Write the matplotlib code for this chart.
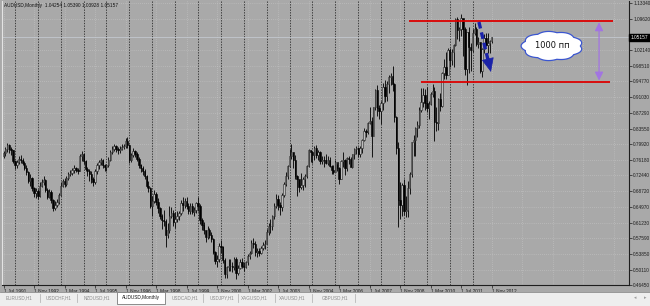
import numpy as np
import matplotlib.pyplot as plt
from matplotlib.path import Path
from matplotlib.patches import Rectangle

plt.rcParams['font.family'] = ['Liberation Sans', 'DejaVu Sans']

# ---- AUDUSD monthly bars, Jul 1991 .. Nov 2012 ----
first_open = 0.7700

closes = [
    0.7770, 0.7880, 0.7960, 0.7880, 0.7840, 0.7590,                                  # 1991 Jul-Dec
    0.7480, 0.7560, 0.7640, 0.7620, 0.7550, 0.7420, 0.7320, 0.7120, 0.7180, 0.6940, 0.6820, 0.6880,  # 1992
    0.6760, 0.7000, 0.7090, 0.7140, 0.6900, 0.6740, 0.6860, 0.6670, 0.6480, 0.6550, 0.6610, 0.6780,  # 1993
    0.7000, 0.7120, 0.7050, 0.7180, 0.7270, 0.7310, 0.7370, 0.7410, 0.7380, 0.7360, 0.7700, 0.7740,  # 1994
    0.7580, 0.7400, 0.7340, 0.7280, 0.7160, 0.7080, 0.7340, 0.7480, 0.7560, 0.7600, 0.7500, 0.7440,  # 1995
    0.7480, 0.7620, 0.7800, 0.7870, 0.7930, 0.7880, 0.7840, 0.7880, 0.7920, 0.7950, 0.8060, 0.7960,  # 1996
    0.7600, 0.7720, 0.7820, 0.7740, 0.7630, 0.7480, 0.7420, 0.7360, 0.7220, 0.7000, 0.6940, 0.6520,  # 1997
    0.6640, 0.6800, 0.6620, 0.6460, 0.6270, 0.6180, 0.6170, 0.5840, 0.5950, 0.6280, 0.6360, 0.6140,  # 1998
    0.6200, 0.6280, 0.6360, 0.6580, 0.6540, 0.6640, 0.6520, 0.6410, 0.6520, 0.6380, 0.6420, 0.6580,  # 1999
    0.6520, 0.6180, 0.6060, 0.5940, 0.5780, 0.5960, 0.5840, 0.5740, 0.5420, 0.5210, 0.5260, 0.5560,  # 2000
    0.5540, 0.5240, 0.4900, 0.5060, 0.5100, 0.5100, 0.5060, 0.5260, 0.4920, 0.5040, 0.5180, 0.5100,  # 2001
    0.5080, 0.5180, 0.5330, 0.5400, 0.5650, 0.5620, 0.5420, 0.5460, 0.5410, 0.5530, 0.5600, 0.5620,  # 2002
    0.5900, 0.6040, 0.6040, 0.6270, 0.6520, 0.6680, 0.6550, 0.6500, 0.6780, 0.7040, 0.7220, 0.7460,  # 2003
    0.7700, 0.7790, 0.7620, 0.7220, 0.7160, 0.6970, 0.7020, 0.7170, 0.7240, 0.7470, 0.7840, 0.7810,  # 2004
    0.7730, 0.7900, 0.7720, 0.7790, 0.7590, 0.7620, 0.7600, 0.7550, 0.7620, 0.7460, 0.7370, 0.7330,  # 2005
    0.7570, 0.7410, 0.7160, 0.7590, 0.7610, 0.7430, 0.7660, 0.7640, 0.7450, 0.7740, 0.7860, 0.7890,  # 2006
    0.7745, 0.7886, 0.8082, 0.8290, 0.8262, 0.8484, 0.8535, 0.8187, 0.8855, 0.9277, 0.8851, 0.8766,  # 2007
    0.8956, 0.9337, 0.9136, 0.9420, 0.9579, 0.9607, 0.9423, 0.8620, 0.7895, 0.6650, 0.6540, 0.7026,  # 2008
    0.6390, 0.6423, 0.6939, 0.7273, 0.8034, 0.8073, 0.8366, 0.8444, 0.8804, 0.8986, 0.9161, 0.8973,  # 2009
    0.8842, 0.8932, 0.9166, 0.9254, 0.8514, 0.8478, 0.9046, 0.8892, 0.9669, 0.9808, 0.9619, 1.0225,  # 2010
    0.9990, 1.0160, 1.0332, 1.0946, 1.0691, 1.0727, 1.0975, 1.0714, 0.9775, 1.0635, 1.0285, 1.0220,  # 2011
    1.0627, 1.0723, 1.0350, 1.0413, 0.9720, 1.0232, 1.0511, 1.0335, 1.0390, 1.04254, 1.05157,       # 2012 Jan-Nov
]

highs = [
    0.7820, 0.7920, 0.8010, 0.7990, 0.7920, 0.7850,
    0.7600, 0.7620, 0.7700, 0.7720, 0.7660, 0.7580, 0.7480, 0.7350, 0.7280, 0.7200, 0.6980, 0.6950,
    0.6920, 0.7080, 0.7160, 0.7220, 0.7150, 0.6950, 0.6920, 0.6900, 0.6680, 0.6630, 0.6680, 0.6820,
    0.7080, 0.7160, 0.7180, 0.7220, 0.7320, 0.7380, 0.7420, 0.7480, 0.7450, 0.7420, 0.7750, 0.7820,
    0.7780, 0.7620, 0.7450, 0.7400, 0.7340, 0.7200, 0.7400, 0.7540, 0.7620, 0.7660, 0.7640, 0.7520,
    0.7520, 0.7680, 0.7840, 0.7950, 0.8000, 0.7970, 0.7920, 0.7950, 0.7980, 0.8000, 0.8120, 0.8150,
    0.7980, 0.7780, 0.7900, 0.7850, 0.7800, 0.7680, 0.7520, 0.7460, 0.7400, 0.7260, 0.7120, 0.6980,
    0.6760, 0.6900, 0.6840, 0.6700, 0.6500, 0.6320, 0.6420, 0.6200, 0.6120, 0.6520, 0.6500, 0.6420,
    0.6380, 0.6400, 0.6400, 0.6660, 0.6720, 0.6700, 0.6720, 0.6580, 0.6600, 0.6600, 0.6500, 0.6620,
    0.6720, 0.6560, 0.6240, 0.6140, 0.5960, 0.6040, 0.6000, 0.5900, 0.5760, 0.5460, 0.5360, 0.5640,
    0.5720, 0.5560, 0.5280, 0.5100, 0.5260, 0.5260, 0.5180, 0.5320, 0.5300, 0.5120, 0.5260, 0.5280,
    0.5180, 0.5220, 0.5380, 0.5460, 0.5700, 0.5760, 0.5680, 0.5520, 0.5520, 0.5580, 0.5660, 0.5700,
    0.5980, 0.6120, 0.6200, 0.6300, 0.6600, 0.6800, 0.6780, 0.6620, 0.6820, 0.7080, 0.7320, 0.7500,
    0.7860, 0.8000, 0.7800, 0.7720, 0.7250, 0.7120, 0.7310, 0.7200, 0.7280, 0.7500, 0.7880, 0.7850,
    0.7830, 0.7950, 0.7960, 0.7850, 0.7830, 0.7700, 0.7700, 0.7750, 0.7710, 0.7670, 0.7500, 0.7500,
    0.7620, 0.7520, 0.7450, 0.7610, 0.7790, 0.7640, 0.7670, 0.7700, 0.7670, 0.7760, 0.7890, 0.7940,
    0.7925, 0.7947, 0.8117, 0.8368, 0.8345, 0.8514, 0.8855, 0.8624, 0.8873, 0.9301, 0.9399, 0.8904,
    0.9000, 0.9432, 0.9497, 0.9484, 0.9630, 0.9669, 0.9849, 0.9425, 0.8657, 0.8040, 0.7083, 0.7055,
    0.7170, 0.6753, 0.7120, 0.7330, 0.8040, 0.8207, 0.8404, 0.8537, 0.8859, 0.9326, 0.9323, 0.9296,
    0.9330, 0.9003, 0.9234, 0.9405, 0.9348, 0.8858, 0.9088, 0.9205, 0.9693, 0.9994, 1.0178, 1.0255,
    1.0256, 1.0253, 1.0365, 1.0980, 1.1012, 1.0776, 1.1081, 1.0950, 1.0756, 1.0650, 1.0754, 1.0380,
    1.0710, 1.0856, 1.0770, 1.0522, 1.0415, 1.0255, 1.0590, 1.0625, 1.0617, 1.0448, 1.05390,
]

lows = [
    0.7650, 0.7700, 0.7810, 0.7780, 0.7730, 0.7530,
    0.7400, 0.7420, 0.7520, 0.7540, 0.7480, 0.7380, 0.7250, 0.7060, 0.7000, 0.6880, 0.6740, 0.6700,
    0.6680, 0.6720, 0.6960, 0.7020, 0.6860, 0.6680, 0.6700, 0.6600, 0.6400, 0.6430, 0.6500, 0.6560,
    0.6760, 0.6980, 0.6980, 0.7000, 0.7140, 0.7220, 0.7260, 0.7300, 0.7320, 0.7280, 0.7340, 0.7580,
    0.7520, 0.7350, 0.7220, 0.7120, 0.7060, 0.7000, 0.7040, 0.7280, 0.7400, 0.7480, 0.7420, 0.7360,
    0.7340, 0.7440, 0.7580, 0.7750, 0.7820, 0.7800, 0.7740, 0.7780, 0.7840, 0.7880, 0.7900, 0.7900,
    0.7540, 0.7560, 0.7680, 0.7680, 0.7580, 0.7420, 0.7320, 0.7260, 0.7160, 0.6940, 0.6840, 0.6480,
    0.6280, 0.6580, 0.6540, 0.6360, 0.6220, 0.5980, 0.6040, 0.5550, 0.5750, 0.5880, 0.6240, 0.6040,
    0.6000, 0.6140, 0.6180, 0.6300, 0.6400, 0.6460, 0.6440, 0.6320, 0.6320, 0.6320, 0.6280, 0.6350,
    0.6400, 0.6100, 0.5960, 0.5860, 0.5660, 0.5740, 0.5760, 0.5660, 0.5380, 0.5140, 0.5080, 0.5200,
    0.5400, 0.5160, 0.4800, 0.4820, 0.4980, 0.4980, 0.4960, 0.5000, 0.4775, 0.4880, 0.5020, 0.5040,
    0.4980, 0.5040, 0.5120, 0.5260, 0.5380, 0.5520, 0.5340, 0.5320, 0.5340, 0.5380, 0.5480, 0.5500,
    0.5620, 0.5820, 0.5880, 0.5960, 0.6220, 0.6460, 0.6420, 0.6300, 0.6400, 0.6720, 0.7000, 0.7160,
    0.7450, 0.7640, 0.7420, 0.7150, 0.6760, 0.6850, 0.6930, 0.6900, 0.6980, 0.7180, 0.7440, 0.7570,
    0.7550, 0.7600, 0.7660, 0.7620, 0.7520, 0.7510, 0.7440, 0.7510, 0.7500, 0.7440, 0.7280, 0.7280,
    0.7340, 0.7360, 0.7030, 0.7150, 0.7440, 0.7260, 0.7360, 0.7520, 0.7440, 0.7430, 0.7630, 0.7750,
    0.7678, 0.7686, 0.7782, 0.8061, 0.8165, 0.8235, 0.8465, 0.7676, 0.8172, 0.8801, 0.8645, 0.8585,
    0.8462, 0.8806, 0.8987, 0.9000, 0.9209, 0.9400, 0.9254, 0.8500, 0.7743, 0.6009, 0.6215, 0.6288,
    0.6300, 0.6250, 0.6247, 0.6807, 0.7200, 0.7695, 0.7705, 0.8162, 0.8366, 0.8754, 0.8875, 0.8786,
    0.8743, 0.8578, 0.8919, 0.9099, 0.8068, 0.8287, 0.8315, 0.8771, 0.8858, 0.9542, 0.9542, 0.9656,
    0.9807, 0.9865, 0.9827, 1.0313, 1.0474, 1.0424, 1.0542, 1.0075, 0.9627, 0.9389, 0.9663, 0.9713,
    1.0177, 1.0580, 1.0310, 1.0263, 0.9667, 0.9581, 1.0158, 1.0315, 1.0150, 1.0148, 1.03928,
]

xtick_labels = ['1 Jul 1991', '1 Nov 1992', '1 Mar 1994', '1 Jul 1995', '1 Nov 1996',
                '1 Mar 1998', '1 Jul 1999', '1 Nov 2000', '1 Mar 2002', '1 Jul 2003',
                '1 Nov 2004', '1 Mar 2006', '1 Jul 2007', '1 Nov 2008', '1 Mar 2010',
                '1 Jul 2011', '1 Nov 2012']
# 1.05880 sits under the bid label on the chart, so it is not listed
ytick_values = [1.13340, 1.09620, 1.02140, 0.98510, 0.94770, 0.91030, 0.87290,
                0.83550, 0.79920, 0.76180, 0.72440, 0.68720, 0.64970, 0.61230, 0.57590,
                0.53850, 0.50110, 0.46450]
separator_years = list(range(1992, 2013))

title_text = 'AUDUSD,Monthly  1.04254 1.05390 1.03928 1.05157'
bid_price = 1.05157

# drawn objects on the chart (bar index, price)
resistance = 1.0914
resistance_span = (212.6, 319.6)
support = 0.9467
support_span = (218.9, 318.0)
range_arrow = (312.3, 0.9495, 1.0875)
drop_arrow = ((249.3, 1.0883), (255.6, 0.9697))
cloud_pos = (287.6, 1.0314)
cloud_label = '1000 пп'

tab_names = ['EURUSD,H1', 'USDCHF,H1', 'NZDUSD,H1', 'AUDUSD,Monthly', 'USDCAD,H1',
             'USDJPY,H1', 'XAGUSD,H1', 'XAUUSD,H1', 'GBPUSD,H1']
active_tab = 'AUDUSD,Monthly'

# ---- layout (pixels) ----
tab_centers = [19.5, 58.5, 96.5, 141, 184.5, 221.5, 254.5, 292.5, 335]
tab_seps = [40, 77, 203, 238, 275, 312, 355]

BG = '#a9a9a9'
W, H = 650, 306

fig = plt.figure(figsize=(6.5, 3.06), dpi=100, facecolor=BG)
ax = fig.add_axes([2 / W, (H - 285) / H, 627 / W, 284 / H], facecolor=BG)

closes = np.array(closes)
highs = np.array(highs)
lows = np.array(lows)
opens = np.concatenate([[first_open], closes[:-1]])
idx = np.arange(len(closes))
up = closes >= opens

# grid + period separators
for yr in separator_years:
    ax.axvline((yr - 1991) * 12 - 6, color='#2a2a2a', lw=0.6, ls=(0, (1.6, 1.6)), zorder=1)
ax.axhline(bid_price, color='#c8ced6', lw=0.5, zorder=1)

# candles
ax.vlines(idx, lows, highs, color='#141414', lw=0.7, zorder=3)
ax.bar(idx[up], (closes - opens)[up], bottom=opens[up], width=0.72,
       color='#bdbdbd', edgecolor='#262626', linewidth=0.4, zorder=4)
ax.bar(idx[~up], (opens - closes)[~up], bottom=closes[~up], width=0.72,
       color='black', edgecolor='black', linewidth=0.4, zorder=4)

# drawn objects
ax.hlines(resistance, *resistance_span, color='#dc0000', lw=1.3, zorder=5)
ax.hlines(support, *support_span, color='#dc0000', lw=1.3, zorder=5)

ax.annotate('', xy=(range_arrow[0], range_arrow[2]), xytext=(range_arrow[0], range_arrow[1]),
            arrowprops=dict(arrowstyle='<|-|>,head_length=0.5,head_width=0.25',
                            color='#a274e2', lw=0.9, shrinkA=0, shrinkB=0, mutation_scale=10),
            zorder=5)

(tx, ty), (hx, hy) = drop_arrow
mx, my = tx + 0.75 * (hx - tx), ty + 0.75 * (hy - ty)
ax.plot([tx, mx], [ty, my], color='#1a22a8', lw=2.4, ls=(0, (2.0, 1.2)),
        solid_capstyle='butt', zorder=6)
ax.annotate('', xy=(hx, hy), xytext=(mx, my),
            arrowprops=dict(arrowstyle='-|>,head_length=0.45,head_width=0.2',
                            color='#1a22a8', lw=0.5, shrinkA=0, shrinkB=0, mutation_scale=20),
            zorder=6)


def cloud(x0, y0, width, height, mutation_size):
    cx, cy = x0 + width / 2, y0 + height / 2
    rx, ry = width / 2 + 11, height / 2 + 9
    t = np.linspace(0, 2 * np.pi, 361)
    bump = 1 + 0.09 * np.abs(np.sin(4.5 * t))
    verts = np.column_stack([cx + rx * bump * np.cos(t), cy + ry * bump * np.sin(t)])
    return Path(verts, closed=True)


ax.text(*cloud_pos, cloud_label, ha='center', va='center', fontsize=6,
        family=['DejaVu Sans'], color='#111111', zorder=7,
        bbox=dict(boxstyle=cloud, fc='white', ec='#3b56d0', lw=0.9))

# axes
ax.set_xlim(-0.79, 328.0)
ax.set_ylim(0.4644, 1.13814)
ax.set_xticks(np.arange(0, 16 * len(xtick_labels), 16))
ax.set_xticklabels(xtick_labels, ha='left')
ax.set_xticks(np.arange(272, 328, 16), minor=True)
ax.set_yticks(ytick_values)
ax.set_yticklabels([f'{v:.5f}' for v in ytick_values])
ax.yaxis.tick_right()
ax.tick_params(axis='both', labelsize=3.4, colors='#1e1e1e', length=2, width=0.5, pad=1)
ax.tick_params(axis='x', which='minor', length=0)
ax.grid(True, which='both', color='#c6c6c6', lw=0.5, ls=(0, (1, 2)), zorder=0)
ax.set_axisbelow(True)
for side in ['right', 'bottom']:
    ax.spines[side].set_color('#1e1e1e')
    ax.spines[side].set_linewidth(0.8)
ax.spines['top'].set_visible(False)
ax.spines['left'].set_color('#e4e4e4')
ax.spines['left'].set_linewidth(0.8)

ax.text(0.003, 0.985, title_text, transform=ax.transAxes, ha='left', va='center',
        fontsize=3.4, color='#111111', zorder=8)
ax.text(1.003, bid_price, f'{bid_price:.5f}', transform=ax.get_yaxis_transform(),
        ha='left', va='center', fontsize=3.4, color='white', zorder=10, clip_on=False,
        bbox=dict(boxstyle='square,pad=0.3', fc='black', ec='black'))

# tab strip
tb = fig.add_axes([0, 0, 1, 14 / H], facecolor='#eeeeee')
tb.set_xlim(0, W)
tb.set_ylim(14, 0)
tb.axis('off')
tb.add_patch(Rectangle((0, 0), W, 14, fc='#eeeeee', ec='none'))
tb.plot([0, W], [0.3, 0.3], color='#8a8a8a', lw=0.6)
for name, cx in zip(tab_names, tab_centers):
    if name == active_tab:
        tb.add_patch(Rectangle((117, -0.5), 48, 12, fc='white', ec='#7a7a7a', lw=0.6))
        tb.text(cx, 5.5, name, ha='center', va='center', fontsize=3.4, color='#111111')
    else:
        tb.text(cx, 5.5, name, ha='center', va='center', fontsize=3.3, color='#8a8a8a')
for sx in tab_seps:
    tb.plot([sx, sx], [2, 9.5], color='#b8b8b8', lw=0.6)
tb.text(635, 5.5, '◂', ha='center', va='center', fontsize=3.5, color='#9a9a9a')
tb.text(645, 5.5, '▸', ha='center', va='center', fontsize=3.5, color='#9a9a9a')

fig.savefig('out.png', dpi=100, facecolor=fig.get_facecolor())
